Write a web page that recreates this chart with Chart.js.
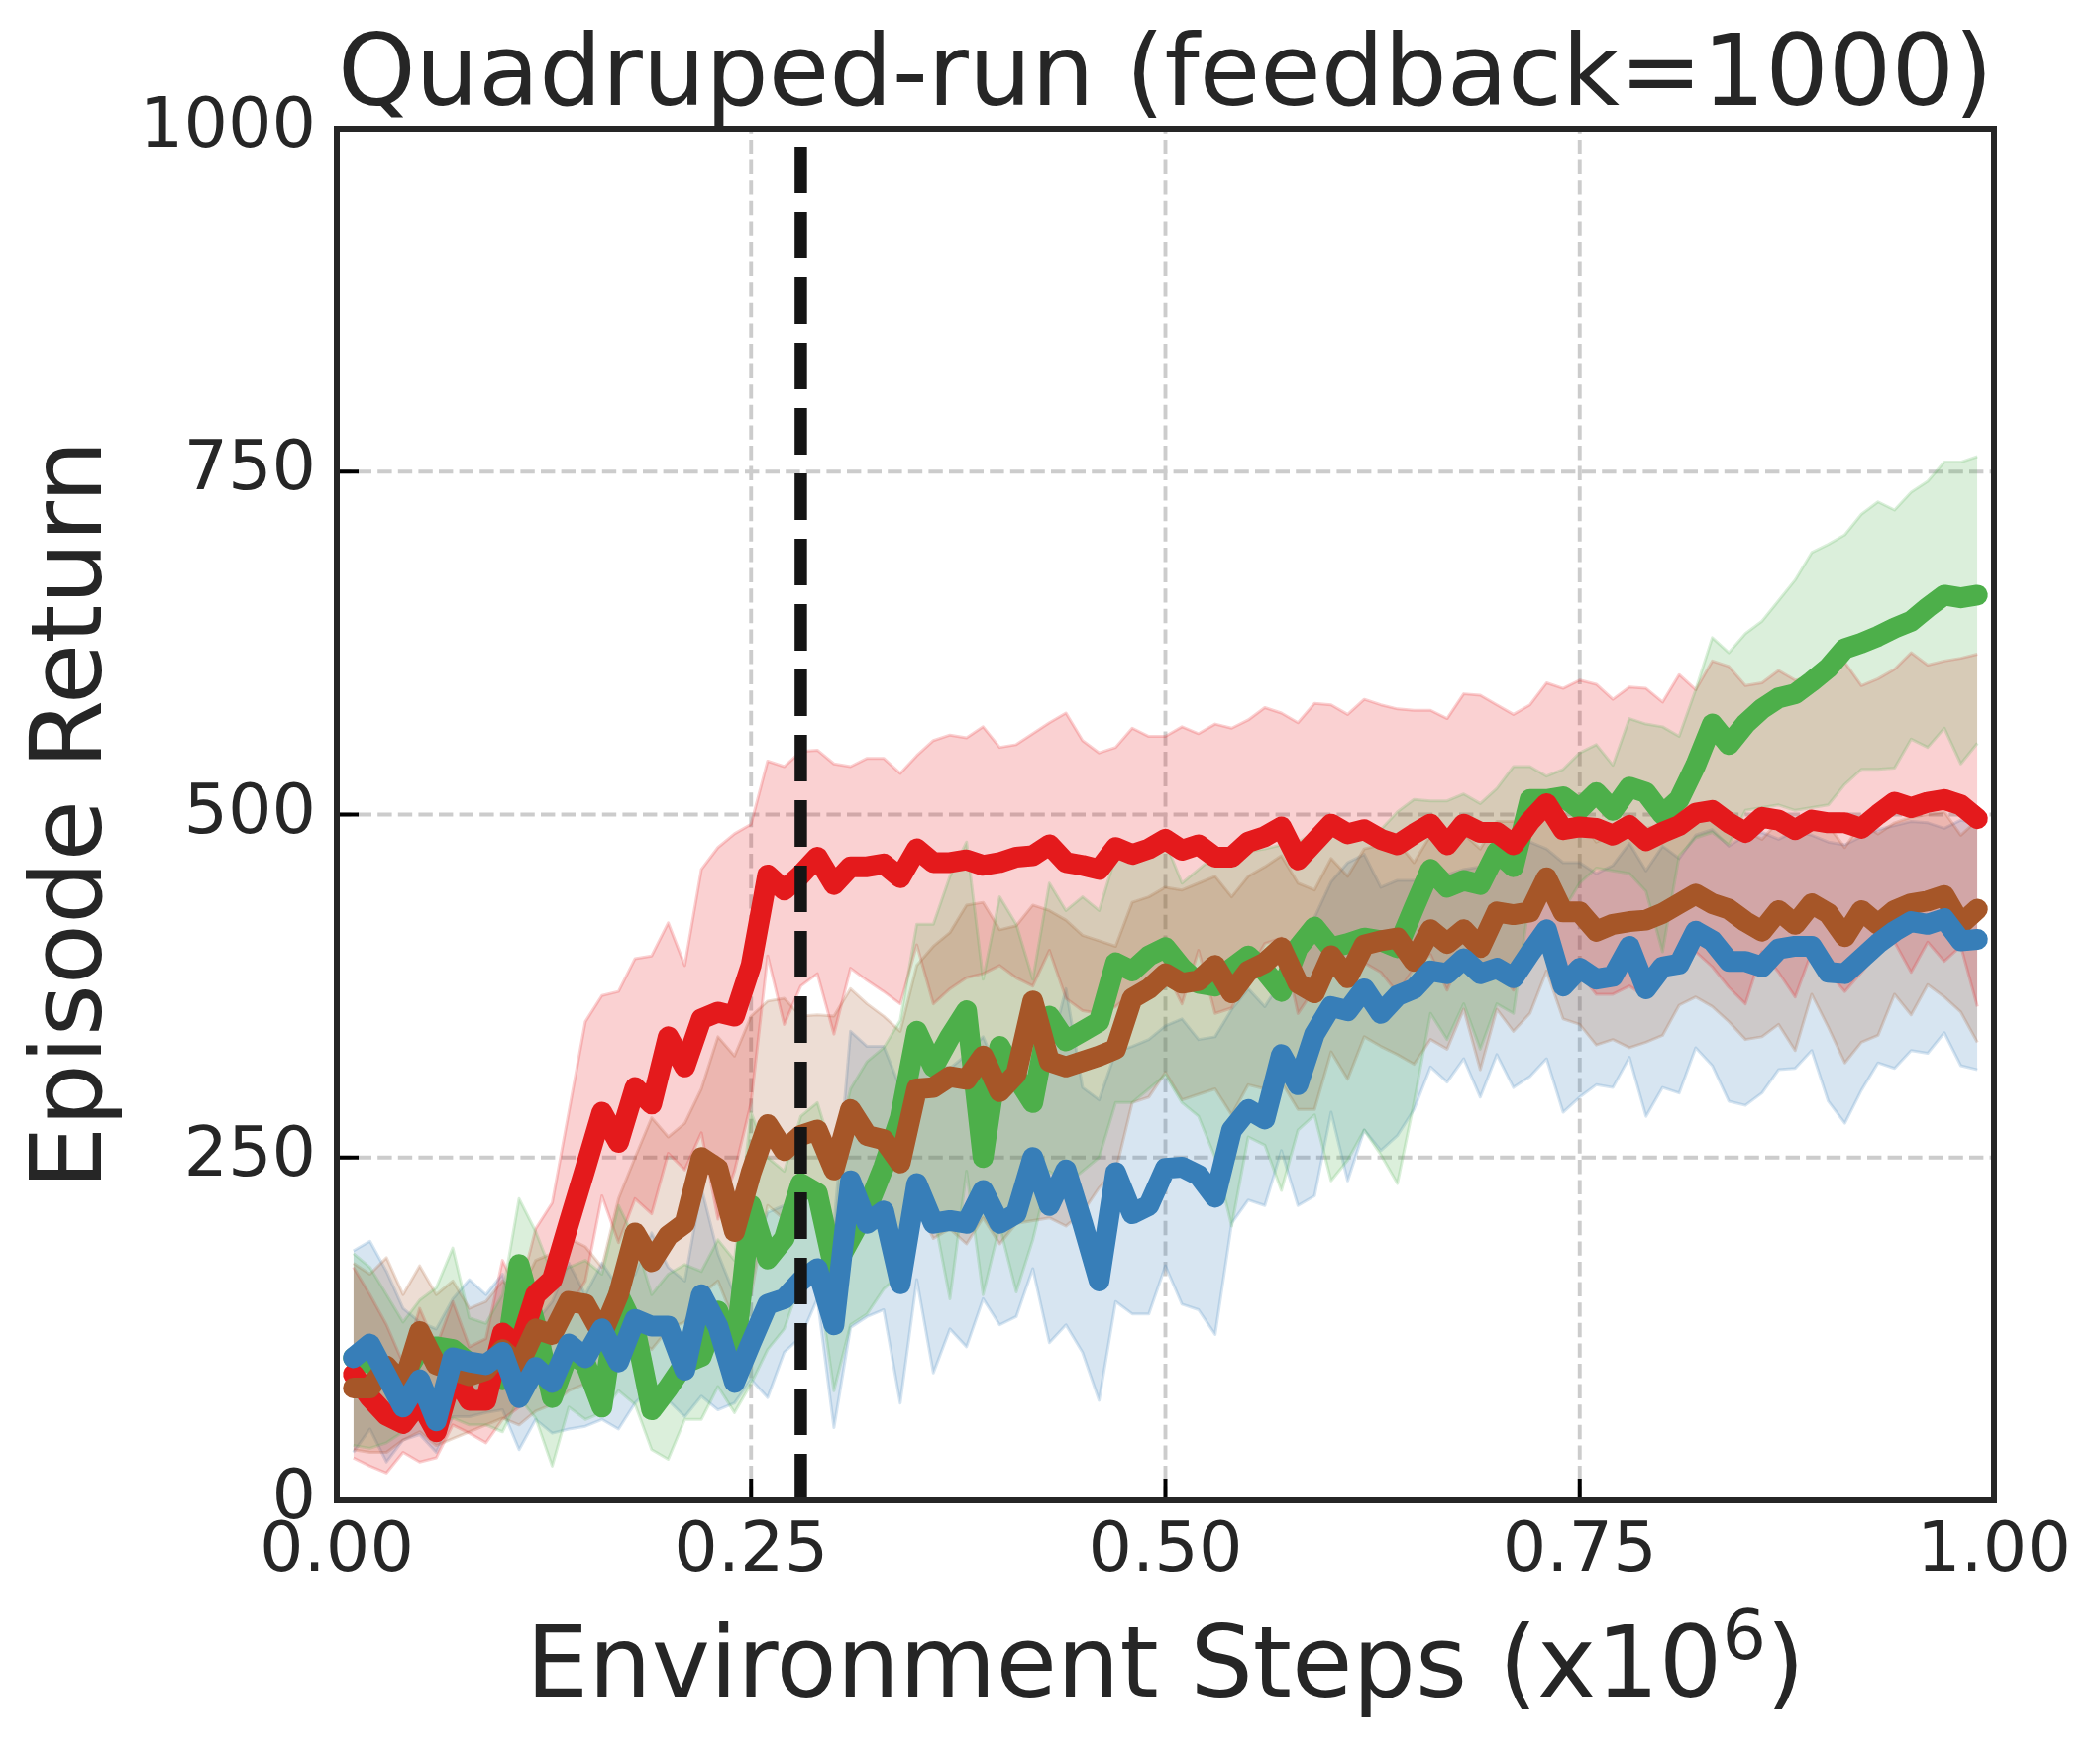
<!DOCTYPE html>
<html>
<head>
<meta charset="utf-8">
<script src="https://cdn.jsdelivr.net/npm/chart.js@4.4.1/dist/chart.umd.min.js"></script>
<style>
  html, body { margin: 0; padding: 0; background: #ffffff; }
  canvas { display: block; }
</style>
</head>
<body>
<canvas id="chart" width="2120" height="1766"></canvas>
<script>
// ---------------- data ----------------
const steps = [
  0.01,0.02,0.03,0.04,0.05,0.06,0.07,0.08,0.09,0.10,
  0.11,0.12,0.13,0.14,0.15,0.16,0.17,0.18,0.19,0.20,
  0.21,0.22,0.23,0.24,0.25,0.26,0.27,0.28,0.29,0.30,
  0.31,0.32,0.33,0.34,0.35,0.36,0.37,0.38,0.39,0.40,
  0.41,0.42,0.43,0.44,0.45,0.46,0.47,0.48,0.49,0.50,
  0.51,0.52,0.53,0.54,0.55,0.56,0.57,0.58,0.59,0.60,
  0.61,0.62,0.63,0.64,0.65,0.66,0.67,0.68,0.69,0.70,
  0.71,0.72,0.73,0.74,0.75,0.76,0.77,0.78,0.79,0.80,
  0.81,0.82,0.83,0.84,0.85,0.86,0.87,0.88,0.89,0.90,
  0.91,0.92,0.93,0.94,0.95,0.96,0.97,0.98,0.99
];

const redMean = [
  92,75,62,56,72,50,93,73,73,122,
  112,150,161,202,242,283,261,301,289,338,
  316,351,356,353,390,456,445,456,469,449,
  462,462,464,454,475,465,465,467,463,465,
  469,470,478,465,463,460,476,471,475,482,
  474,478,469,469,480,484,491,467,480,493,
  486,489,482,478,486,493,478,493,487,487,
  478,495,508,489,491,490,485,492,481,487,
  492,501,503,494,487,498,496,489,496,494,
  494,490,500,509,505,509,511,507,497
];
const redHigh = [
  170,150,128,100,140,112,145,112,118,175,
  150,198,217,283,349,368,371,395,397,421,
  390,460,476,486,493,539,535,546,547,537,
  535,541,541,530,543,554,558,556,564,549,
  551,559,567,574,554,545,549,563,557,557,
  564,559,566,563,569,578,574,567,581,580,
  573,584,580,577,576,576,570,588,587,580,
  573,580,596,592,598,595,584,593,592,582,
  602,591,612,608,594,596,605,598,600,605,
  611,594,599,606,618,609,612,614,617
];
const redLow = [
  31,25,20,35,28,31,55,49,42,59,
  68,95,115,140,160,222,188,220,209,253,
  241,268,205,240,290,397,347,375,384,340,
  388,379,371,362,405,362,373,381,384,390,
  381,375,401,366,357,355,360,370,379,386,
  362,401,355,359,385,406,410,355,373,395,
  380,392,385,370,388,398,372,400,385,388,
  372,392,405,382,384,369,369,375,367,380,
  390,400,389,374,362,400,385,367,400,385,
  371,385,400,407,385,407,393,404,360
];

const greenMean = [
  104,100,95,90,110,112,110,100,95,88,
  172,128,75,108,100,68,150,125,66,82,
  100,105,138,105,215,176,191,231,224,169,
  191,213,243,279,342,316,338,357,250,331,
  309,290,353,335,342,349,392,386,397,403,
  388,377,375,388,397,386,371,403,418,403,
  406,410,408,403,432,460,447,452,449,473,
  462,511,511,513,504,516,503,520,516,500,
  511,536,566,551,566,577,585,588,597,607,
  621,625,630,636,641,651,660,658,660
];
const greenHigh = [
  180,170,150,130,146,155,184,133,129,150,
  220,196,165,170,175,165,215,190,150,165,
  172,167,190,175,283,250,240,280,290,250,
  300,320,330,350,420,420,455,480,380,440,
  420,380,450,430,440,430,470,470,480,480,
  450,460,470,471,473,475,478,480,487,493,
  493,491,489,502,511,510,510,515,508,519,
  535,535,528,533,545,551,536,570,566,564,
  557,591,629,618,632,641,656,671,691,697,
  704,719,728,722,735,743,757,757,761
];
const greenLow = [
  40,38,42,50,60,58,60,55,55,50,
  75,60,25,68,59,64,80,70,37,30,
  59,59,83,64,85,110,125,160,165,80,
  128,136,154,165,230,210,147,240,150,200,
  152,190,240,230,240,250,290,290,300,310,
  290,280,250,200,265,259,226,270,281,233,
  248,270,252,231,290,355,336,362,329,362,
  355,440,445,430,450,461,459,457,444,400,
  470,483,487,478,503,505,507,503,505,507,
  522,533,533,534,555,549,563,537,552
];

const brownMean = [
  82,82,98,84,123,99,95,91,95,110,
  99,125,121,145,143,121,150,195,174,193,
  202,250,242,196,239,274,255,266,270,241,
  285,266,263,246,300,301,309,307,324,298,
  311,364,320,316,320,324,329,366,373,384,
  377,379,390,370,386,392,403,377,370,397,
  381,405,408,410,393,416,406,416,403,429,
  427,429,454,429,429,415,420,422,423,428,
  435,442,435,431,422,415,430,420,435,428,
  411,430,420,430,435,437,441,420,431
];
const brownHigh = [
  173,165,177,150,171,150,160,140,145,160,
  150,175,180,191,185,170,220,250,279,265,
  275,300,338,324,353,364,366,353,354,353,
  373,362,353,342,390,404,414,434,436,416,
  419,434,430,423,412,408,404,436,440,447,
  445,450,455,440,455,462,470,450,445,468,
  455,475,478,480,465,485,478,486,475,495,
  495,498,515,495,497,480,485,488,490,492,
  498,505,500,495,488,482,495,485,498,492,
  476,494,486,494,498,500,502,485,496
];
const brownLow = [
  37,35,35,44,50,40,45,50,55,60,
  55,65,70,80,85,80,100,120,110,125,
  130,150,160,130,150,215,205,220,225,200,
  230,215,205,190,215,191,198,187,206,187,
  202,204,206,200,210,228,240,290,294,312,
  292,296,300,281,303,300,305,285,285,327,
  307,338,331,325,318,336,329,358,314,358,
  342,355,386,351,347,332,336,330,334,339,
  361,367,360,349,336,338,347,328,369,345,
  319,334,339,369,354,376,367,356,334
];

const blueMean = [
  104,114,91,68,88,58,104,101,99,108,
  75,97,86,114,104,125,101,132,127,127,
  95,150,127,86,115,143,147,160,169,128,
  233,202,211,158,231,202,204,202,226,202,
  209,250,215,241,202,160,239,209,215,242,
  243,237,221,270,285,278,325,303,340,360,
  357,373,355,368,373,386,384,395,384,388,
  381,399,416,375,388,380,382,404,373,389,
  391,415,408,393,393,389,402,404,404,385,
  384,395,406,415,422,420,424,408,409
];
const blueHigh = [
  182,189,167,140,130,125,147,161,150,165,
  120,130,145,173,150,173,155,165,195,170,
  160,228,180,150,180,210,215,220,230,200,
  342,331,331,301,330,320,315,325,338,310,
  320,340,325,373,301,292,327,331,336,346,
  351,336,338,358,373,360,379,395,425,451,
  465,471,447,452,452,454,456,460,462,460,
  465,480,475,465,465,457,463,479,459,477,
  468,485,489,477,485,487,482,488,485,480,
  478,484,489,492,495,494,490,496,493
];
const blueLow = [
  35,52,28,44,48,35,61,61,64,66,
  37,59,49,52,54,59,52,71,83,73,
  61,76,66,71,88,75,108,119,147,53,
  126,134,139,71,161,93,125,112,147,128,
  134,169,115,128,108,73,145,136,136,171,
  143,139,121,202,219,215,255,215,222,283,
  233,270,255,266,285,316,305,322,294,325,
  301,309,322,283,294,303,301,323,280,301,
  297,330,317,291,288,297,314,315,328,291,
  275,299,319,315,328,326,341,317,314
];

const xTicks = [0, 0.25, 0.5, 0.75, 1];
const xTickLabels = ['0.00', '0.25', '0.50', '0.75', '1.00'];
const yTicks = [0, 250, 500, 750, 1000];
const yTickLabels = ['0', '250', '500', '750', '1000'];
const feedbackStep = 0.28;
const titleText = 'Quadruped-run (feedback=1000)';
const xTitleMain = 'Environment Steps (x10';
const xTitleSup = '6';
const xTitleEnd = ')';
const yTitle = 'Episode Return';

// ---------------- styling ----------------
const FONT = '"DejaVu Sans", "Liberation Sans", sans-serif';
const TEXT = '#262626';
const seriesDefs = [
  { rgb: [77, 175, 74],  mean: greenMean, high: greenHigh, low: greenLow, order: 4 },
  { rgb: [228, 26, 28],  mean: redMean,   high: redHigh,   low: redLow,   order: 3 },
  { rgb: [166, 86, 40],  mean: brownMean, high: brownHigh, low: brownLow, order: 2 },
  { rgb: [55, 126, 184], mean: blueMean,  high: blueHigh,  low: blueLow,  order: 1 }
];
const rgba = (c, a) => `rgba(${c[0]},${c[1]},${c[2]},${a})`;
const pts = vals => steps.map((s, k) => ({ x: s, y: vals[k] }));

const datasets = [];
seriesDefs.forEach(s => {
  datasets.push({
    data: pts(s.high), fill: '+1', backgroundColor: rgba(s.rgb, 0.2),
    borderColor: rgba(s.rgb, 0.2), borderWidth: 3, pointRadius: 0,
    tension: 0, borderJoinStyle: 'round', order: 20
  });
  datasets.push({
    data: pts(s.low), fill: false,
    borderColor: rgba(s.rgb, 0.2), borderWidth: 3, pointRadius: 0,
    tension: 0, borderJoinStyle: 'round', order: 20
  });
});
seriesDefs.forEach(s => {
  datasets.push({
    data: pts(s.mean), fill: false, borderColor: rgba(s.rgb, 1),
    borderWidth: 21, pointRadius: 0, tension: 0,
    borderJoinStyle: 'round', borderCapStyle: 'round', order: s.order
  });
});

const framePlugin = {
  id: 'frame',
  beforeDatasetsDraw(chart) {
    const { ctx, chartArea: a, scales: { x, y } } = chart;
    ctx.save();
    ctx.strokeStyle = '#cccccc';
    ctx.lineWidth = 3.9;
    ctx.setLineDash([14.4, 6.2]);
    xTicks.forEach(v => {
      if (v <= x.min || v >= x.max) return;
      const px = x.getPixelForValue(v);
      ctx.beginPath(); ctx.moveTo(px, a.bottom); ctx.lineTo(px, a.top); ctx.stroke();
    });
    yTicks.forEach(v => {
      if (v <= y.min || v >= y.max) return;
      const py = y.getPixelForValue(v);
      ctx.beginPath(); ctx.moveTo(a.left, py); ctx.lineTo(a.right, py); ctx.stroke();
    });
    ctx.restore();
  },
  afterDatasetsDraw(chart) {
    const { ctx, chartArea: a, scales: { x, y } } = chart;
    ctx.save();
    // vertical dashed marker
    const vx = x.getPixelForValue(feedbackStep);
    ctx.strokeStyle = '#151515';
    ctx.lineWidth = 12.5;
    ctx.setLineDash([47, 19]);
    ctx.beginPath(); ctx.moveTo(vx, a.bottom); ctx.lineTo(vx, a.top); ctx.stroke();
    // inward ticks
    ctx.setLineDash([]);
    ctx.strokeStyle = '#000000';
    ctx.lineWidth = 4;
    xTicks.forEach(v => {
      const px = x.getPixelForValue(v);
      ctx.beginPath(); ctx.moveTo(px, a.bottom); ctx.lineTo(px, a.bottom - 22); ctx.stroke();
    });
    yTicks.forEach(v => {
      const py = y.getPixelForValue(v);
      ctx.beginPath(); ctx.moveTo(a.left, py); ctx.lineTo(a.left + 22, py); ctx.stroke();
    });
    // spines
    ctx.strokeStyle = TEXT;
    ctx.lineWidth = 6;
    ctx.strokeRect(a.left, a.top, a.right - a.left, a.bottom - a.top);
    ctx.restore();
  },
  afterDraw(chart) {
    // x-axis title with a raised superscript exponent
    const { ctx, chartArea: a } = chart;
    ctx.save();
    ctx.fillStyle = TEXT;
    ctx.textBaseline = 'alphabetic';
    ctx.textAlign = 'left';
    const big = `normal 100px ${FONT}`;
    const small = `normal 70px ${FONT}`;
    ctx.font = big;
    const w1 = ctx.measureText(xTitleMain).width;
    const w3 = ctx.measureText(xTitleEnd).width;
    ctx.font = small;
    const w2 = ctx.measureText(xTitleSup).width;
    const total = w1 + w2 + w3;
    const baseY = 1713;
    let sx = (a.left + a.right) / 2 - total / 2;
    ctx.font = big;
    ctx.fillText(xTitleMain, sx, baseY);
    ctx.font = small;
    ctx.fillText(xTitleSup, sx + w1, baseY - 38);
    ctx.font = big;
    ctx.fillText(xTitleEnd, sx + w1 + w2, baseY);
    ctx.restore();
  }
};

Chart.defaults.font.family = FONT;

new Chart(document.getElementById('chart').getContext('2d'), {
  type: 'line',
  data: { datasets },
  options: {
    responsive: false,
    animation: false,
    devicePixelRatio: 1,
    events: [],
    layout: { padding: { left: 0, right: 107, top: 0, bottom: 0 } },
    plugins: {
      legend: { display: false },
      tooltip: { enabled: false },
      title: {
        display: true, text: titleText, fullSize: false, color: TEXT,
        font: { family: FONT, size: 100, weight: 'normal', lineHeight: 1 },
        padding: { top: 30, bottom: 0 }
      }
    },
    scales: {
      x: {
        type: 'linear', position: 'bottom', min: 0, max: 1,
        afterFit(s) { s.height = 251; },
        afterBuildTicks(s) { s.ticks = xTicks.map(v => ({ value: v })); },
        ticks: {
          autoSkip: false, maxRotation: 0, minRotation: 0, padding: 18, color: TEXT,
          font: { family: FONT, size: 70, lineHeight: 1 },
          callback: (v, i) => xTickLabels[i]
        },
        grid: { display: false, drawTicks: false },
        border: { display: false },
        title: { display: false }
      },
      y: {
        type: 'linear', position: 'left', min: 0, max: 1000,
        afterFit(s) { s.width = 340; },
        afterBuildTicks(s) { s.ticks = yTicks.map(v => ({ value: v })); },
        ticks: {
          autoSkip: false, padding: 21, color: TEXT,
          font: { family: FONT, size: 70, lineHeight: 1 },
          callback: (v, i) => yTickLabels[i]
        },
        grid: { display: false, drawTicks: false },
        border: { display: false },
        title: {
          display: true, text: yTitle, color: TEXT,
          font: { family: FONT, size: 100, lineHeight: 1 },
          padding: { top: 26, bottom: 0 }
        }
      }
    }
  },
  plugins: [framePlugin]
});
</script>
</body>
</html>
